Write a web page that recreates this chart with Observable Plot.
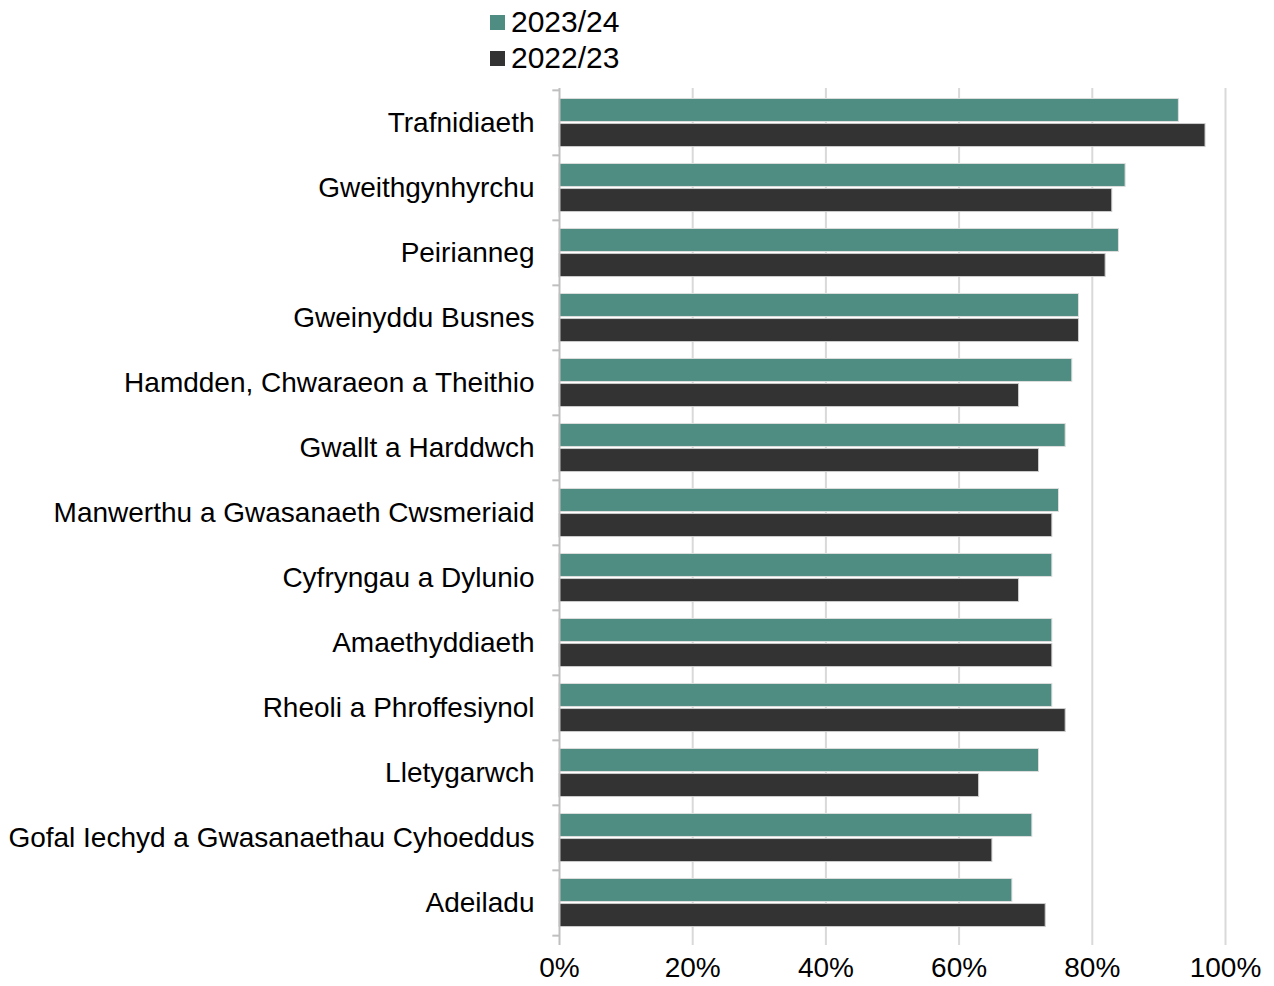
<!DOCTYPE html>
<html><head><meta charset="utf-8">
<script src="https://cdn.jsdelivr.net/npm/d3@7"></script>
<script src="https://cdn.jsdelivr.net/npm/@observablehq/plot@0.6"></script>
<style>
body{margin:0;background:#fff;font-family:"Liberation Sans",Arial,sans-serif;}
#wrap{position:relative;width:1274px;height:986px;}
#legend{position:absolute;left:490px;top:4px;font-size:30px;color:#000;line-height:36px;}
.item{display:flex;align-items:center;}
.sw{width:15px;height:15px;margin-right:6px;}
</style></head><body><div id="wrap"><div id="legend"></div><div id="chart"></div></div>
<script>
const categories = ["Trafnidiaeth","Gweithgynhyrchu","Peirianneg","Gweinyddu Busnes","Hamdden, Chwaraeon a Theithio","Gwallt a Harddwch","Manwerthu a Gwasanaeth Cwsmeriaid","Cyfryngau a Dylunio","Amaethyddiaeth","Rheoli a Phroffesiynol","Lletygarwch","Gofal Iechyd a Gwasanaethau Cyhoeddus","Adeiladu"];
const series = ["2023/24","2022/23"];
const values2324 = [93,85,84,78,77,76,75,74,74,74,72,71,68];
const values2223 = [97,83,82,78,69,72,74,69,74,76,63,65,73];
const xTicks = [0,20,40,60,80,100];
const colors = ["#4f8c82","#333333"];

const rows = [];
categories.forEach((c,i)=>{
  rows.push({category:c, series:series[0], value:values2324[i]});
  rows.push({category:c, series:series[1], value:values2223[i]});
});

const mt = 88, mb = 49, H = 986;
const step = (H - mt - mb) / categories.length;
const off = step * 0.192;

const legend = document.getElementById("legend");
series.forEach((s,i)=>{
  const d = document.createElement("div"); d.className="item";
  d.innerHTML = `<span class="sw" style="background:${colors[i]}"></span><span>${s}</span>`;
  legend.appendChild(d);
});

const chart = Plot.plot({
  width: 1274, height: H,
  marginLeft: 559, marginRight: 49, marginTop: mt, marginBottom: mb,
  style: {fontFamily: "'Liberation Sans', Arial, sans-serif", color: "#000", background: "#fff", overflow: "visible"},
  x: {domain: [0,100], axis: null},
  y: {domain: categories, paddingInner: 0.645, paddingOuter: 0.3225, axis: null},
  color: {domain: series, range: colors},
  marks: [
    Plot.ruleX(xTicks.filter(d=>d>0), {x: d=>d, stroke:"#d9d9d9", strokeWidth:2, insetBottom:-8}),
    Plot.barX(rows.filter(r=>r.series===series[0]), {x:"value", y:"category", fill:"series", dy:-off, stroke:"#ddd", strokeWidth:1}),
    Plot.barX(rows.filter(r=>r.series===series[1]), {x:"value", y:"category", fill:"series", dy:off, stroke:"#ccc", strokeWidth:1}),
    Plot.ruleX([0], {x: d=>d, stroke:"#bfbfbf", strokeWidth:2, insetBottom:-8}),
    Plot.ruleY(categories, {y: d=>d, x1: -1, x2: 0, dy: -step/2, stroke:"#bfbfbf", strokeWidth:2}),
    Plot.ruleY(categories.slice(-1), {y: d=>d, x1: -1, x2: 0, dy: step/2, stroke:"#bfbfbf", strokeWidth:2}),
    Plot.axisY({domain: categories, tickSize: 0, tickPadding: 25, fontSize: 28, label: null}),
    Plot.axisX({ticks: xTicks, tickFormat: d=>d+"%", tickSize: 0, tickPadding: 20, fontSize: 28, label: null})
  ]
});
document.getElementById("chart").appendChild(chart);
</script></body></html>
